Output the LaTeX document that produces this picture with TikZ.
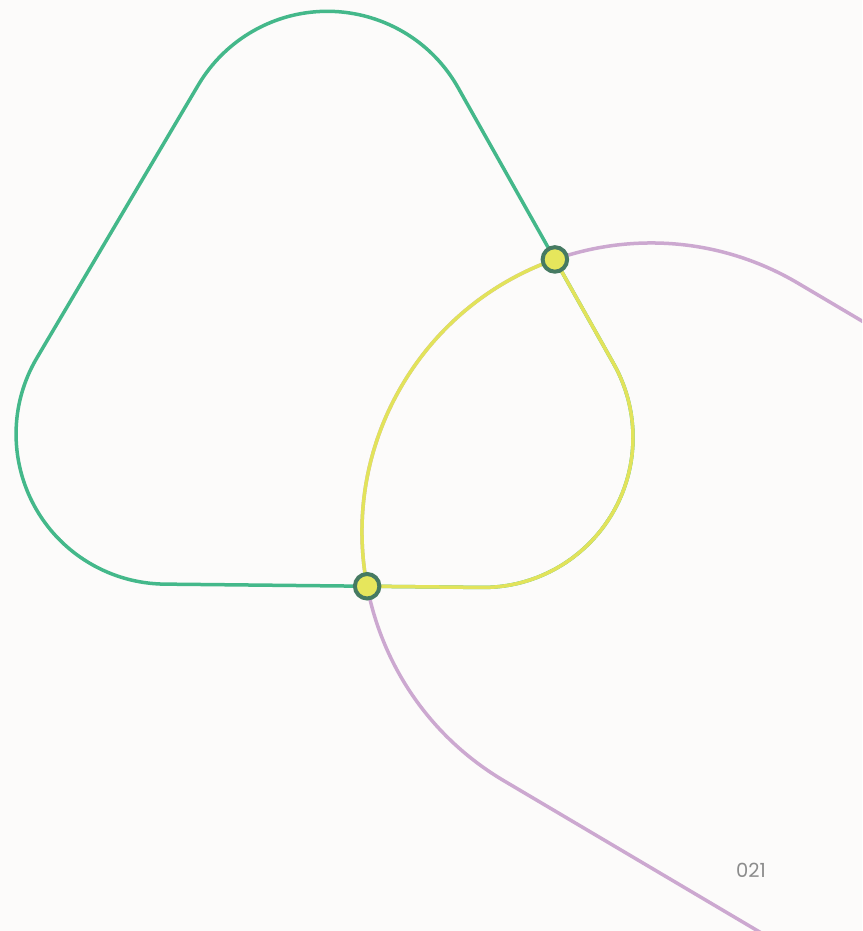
\documentclass[tikz,border=0pt]{standalone}
\usepackage{fontspec}
\newfontfamily\labelfont{Poppins}
\usetikzlibrary{calc,intersections}
\definecolor{bgcol}{HTML}{FCFBFA}
\definecolor{greenline}{HTML}{44B88A}
\definecolor{yellowline}{HTML}{E2E35A}
\definecolor{purpleline}{HTML}{CCA8D0}
\definecolor{dotring}{HTML}{467A62}
\definecolor{dotfill}{HTML}{E6E65C}
\definecolor{labelgray}{HTML}{8C8C8C}
\newcommand{\GreenOutline}{($(gT)+(29.4:150)$) arc[start angle=29.4, end angle=149.4, radius=150] -- ($(gL)+(149.4:150)$) arc[start angle=149.4, end angle=269.4, radius=150] -- ($(gB)+(269.4:150)$) arc[start angle=269.4, end angle=389.4, radius=150] -- cycle}
\newcommand{\PurpleOutline}{($(pC)+(59.4:289)$) arc[start angle=59.4, end angle=239.4, radius=289] -- ($(pC)+(239.4:289)+(-30.6:1500)$) -- ($(pC)+(59.4:289)+(-30.6:1500)$) -- cycle}
\tikzset{
  shapeline/.style={line width=3.5, line join=round},
  greenstroke/.style={shapeline, draw=greenline},
  purplestroke/.style={shapeline, draw=purpleline},
  yellowstroke/.style={shapeline, draw=yellowline},
  crossdot/.style={circle, inner sep=0pt, minimum size=24.5, draw=dotring, line width=4, fill=dotfill},
  pagelabel/.style={font=\labelfont\fontsize{19.5}{23}\selectfont, text=labelgray, inner sep=0pt}
}
\begin{document}
\begin{tikzpicture}[x=1pt,y=1pt]
\useasboundingbox (0,0) rectangle (862,-931);
\fill[bgcol] (0,0) rectangle (862,-931);
\coordinate (gG) at (325.5,-344.3);
\coordinate (gT) at ($(gG)+(89.4:183)$);
\coordinate (gL) at ($(gG)+(209.4:183)$);
\coordinate (gB) at ($(gG)+(329.4:183)$);
\coordinate (pC) at (651,-532);
\begin{scope}
\clip (0,0) rectangle (862,-931);
\path[greenstroke, name path=gp] \GreenOutline;
\path[purplestroke, name path=pp] \PurpleOutline;
\begin{scope}
\clip \PurpleOutline;
\path[yellowstroke] \GreenOutline;
\end{scope}
\begin{scope}
\clip \GreenOutline;
\path[yellowstroke] \PurpleOutline;
\end{scope}
\path[name intersections={of=gp and pp, by={ixA,ixB}}];
\node[crossdot] (dotA) at (ixA) {};
\node[crossdot] (dotB) at (ixB) {};
\end{scope}
\node[pagelabel] (pagenum) at (751,-870) {021};
\end{tikzpicture}
\end{document}
